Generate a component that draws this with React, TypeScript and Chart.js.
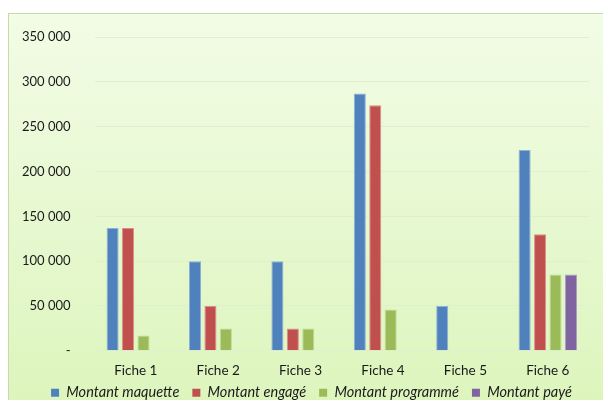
import React, { useEffect, useRef } from "react";
import { Chart, registerables } from "chart.js";

Chart.register(...registerables);

const categories = ["Fiche 1", "Fiche 2", "Fiche 3", "Fiche 4", "Fiche 5", "Fiche 6"];
const maquette = [137000, 100000, 100000, 287000, 50000, 224000];
const engage = [137000, 50000, 25000, 274000, 0, 130000];
const programme = [17000, 25000, 25000, 46000, 0, 85000];
const paye = [0, 0, 0, 0, 0, 85000];
const seriesNames = ["Montant maquette", "Montant engagé", "Montant programmé", "Montant payé"];
const seriesColors = ["#4f81bd", "#c0504d", "#9bbb59", "#8064a2"];
const seriesEdges = ["#8fb0da", "#dc8e8c", "#c3d99a", "#ae9cc8"];

function fmt(v: number): string {
  if (v === 0) return "-";
  return String(v).replace(/\B(?=(\d{3})+(?!\d))/g, " ");
}

const legendPlace = {
  id: "legendPlace",
  afterInit(chart: any) {
    const lg = chart.legend;
    if (!lg) return;
    const orig = lg.fit;
    lg.fit = function () {
      orig.call(this);
      this._fullHeight = this.height;
      this.height -= 20.5;
    };
  },
  afterLayout(chart: any) {
    const lg = chart.legend;
    if (!lg) return;
    const full = lg._fullHeight || lg.height;
    lg.top = 358.5;
    lg.bottom = lg.top + full;
    lg.left += 18;
    lg.right += 18;
  },
};

export default function App() {
  const ref = useRef<HTMLCanvasElement | null>(null);
  useEffect(() => {
    if (!ref.current) return;
    const all = [maquette, engage, programme, paye];
    const chart = new Chart(ref.current, {
      type: "bar",
      data: {
        labels: categories,
        datasets: all.map((d, i) => ({
          label: seriesNames[i],
          data: d,
          backgroundColor: seriesColors[i],
          borderColor: seriesEdges[i],
          borderWidth: 1,
          barPercentage: 0.78,
          categoryPercentage: 0.75,
        })),
      },
      plugins: [legendPlace],
      options: {
        animation: false,
        responsive: true,
        maintainAspectRatio: false,
        layout: { padding: { top: 23, right: 14, left: -11, bottom: 0 } },
        plugins: {
          tooltip: { enabled: false },
          legend: {
            position: "bottom",
            labels: {
              boxWidth: 8,
              boxHeight: 8,
              padding: 13,
              color: "#1a1a1a",
              font: { family: "Lato", size: 14.5, style: "italic" },
              generateLabels: (c: any) =>
                c.data.datasets.map((ds: any, i: number) => ({
                  text: ds.label,
                  fillStyle: seriesColors[i],
                  strokeStyle: seriesColors[i],
                  lineWidth: 0,
                  hidden: false,
                  datasetIndex: i,
                  fontColor: "#1a1a1a",
                })),
            },
          },
        },
        scales: {
          x: {
            grid: { display: false },
            border: { display: false },
            ticks: { color: "#1a1a1a", font: { family: "Lato", size: 13.5 }, padding: 4 },
          },
          y: {
            min: 0,
            max: 350000,
            afterFit: (s: any) => {
              s.paddingTop = 0;
              s.paddingBottom = 0;
            },
            ticks: {
              stepSize: 50000,
              color: "#1a1a1a",
              font: { family: "Lato", size: 13 },
              padding: 24,
              callback: (v: any) => fmt(Number(v)),
            },
            grid: { color: "#e2efcd", drawTicks: false },
            border: { display: false },
          },
        },
      },
    } as any);
    return () => chart.destroy();
  }, []);
  return (
    <div
      style={{
        position: "fixed",
        left: 8,
        top: 13,
        right: 0,
        bottom: 0,
        borderLeft: "1px solid #c6dba6",
        borderTop: "1px solid #c6dba6",
        background: "linear-gradient(to bottom, #f2fce6 0%, #ddf5bd 100%)",
      }}
    >
      <canvas ref={ref} />
    </div>
  );
}
